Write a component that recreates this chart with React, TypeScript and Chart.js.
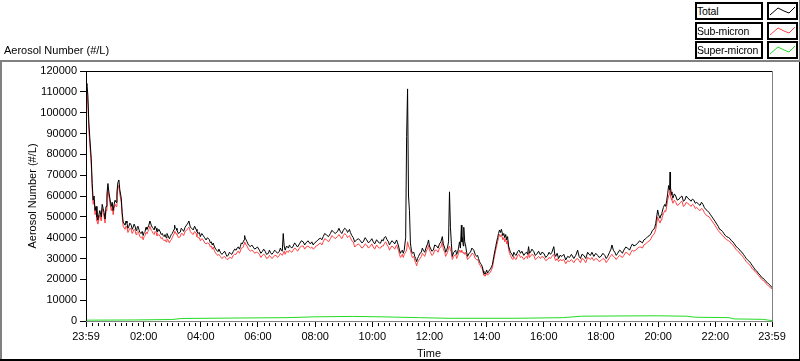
import React, { useEffect, useRef } from 'react';
import { Chart, registerables } from 'chart.js';
Chart.register(...registerables);

// ---------- data ----------
const chartTitle = 'Aerosol Number (#/L)';
const yAxisTitle = 'Aerosol Number (#/L)';
const xAxisTitle = 'Time';
const seriesNames = ['Total', 'Sub-micron', 'Super-micron'];

// x axis: minutes elapsed since 23:59 (0 .. 1440)
const tickMinutes = [0, 121, 241, 361, 481, 601, 721, 841, 961, 1081, 1201, 1321, 1440];
const tickLabels = ['23:59', '02:00', '04:00', '06:00', '08:00', '10:00', '12:00', '14:00', '16:00', '18:00', '20:00', '22:00', '23:59'];

const minutes = [
  0, 2, 4, 6, 8, 11, 13, 15, 17, 19, 21, 23, 25, 27, 29, 32, 34, 36, 38, 40, 42, 44, 46, 48, 50, 53, 55, 57, 59, 61, 63, 65, 67, 69, 71, 74, 76, 78,
  82, 84, 86, 88, 90, 92, 95, 97, 99, 101, 103, 105, 107, 109, 111, 113, 116, 118, 120, 122, 124, 126, 128, 130, 132, 134, 135, 137, 139, 141,
  143, 145, 147, 149, 151, 153, 156, 158, 160, 162, 164, 166, 168, 170, 172, 175, 177, 179, 181, 183, 185, 186, 187, 189, 191, 194, 198, 200, 202, 205,
  208, 211, 214, 216, 219, 222, 225, 228, 231, 233, 235, 238, 240,
  243, 246, 249, 252, 255, 259, 261, 263, 265, 267, 269, 271, 274, 277, 279, 282, 285, 288, 291, 294, 296, 299, 301, 303, 306, 309, 312, 315, 317, 320,
  322, 324, 326, 328, 330, 332, 333, 334, 336, 338, 341, 345, 348, 351, 354, 357, 360, 364, 367, 370, 373, 376, 379, 383, 385, 387, 390, 393, 396, 399,
  402, 406, 408, 410,
  412, 414, 416, 418, 421, 425, 427, 429, 432, 435, 438, 441, 444, 448, 452, 456, 459, 462, 466, 471, 474, 477, 480, 483, 487, 492, 495, 498, 501, 505,
  509, 513, 516, 519, 523, 528, 531, 534, 537, 540, 543, 547, 549, 551, 553, 555, 558, 561, 564, 568, 572, 576, 579, 582, 586, 589, 593, 597, 600, 603,
  606, 610, 613, 616, 618, 621, 624, 626, 629, 632, 635, 637, 639, 642, 645, 648, 652, 654, 656, 658, 660, 662, 664, 666, 668,
  671, 673, 675, 677, 679, 681, 683, 685, 688, 690, 692, 694, 696, 698, 701, 704, 706, 708, 711, 715, 717, 719, 721, 723, 726, 729, 732, 736, 739, 742,
  745, 748, 750, 753, 755, 757, 759, 761, 763, 765, 767, 769, 772, 776, 778, 780, 782, 784, 786, 788, 789, 790, 792, 793, 795, 797, 799, 801, 804, 807,
  810, 814, 817, 820, 822, 824, 826, 828, 830, 832, 834, 835, 838, 841, 843, 845, 847, 849, 851, 853,
  856, 860, 862, 864, 866, 868, 870, 872, 875, 877, 879, 881, 883, 885, 887, 889, 891, 894, 896, 898, 900, 903, 906, 909, 912, 915, 919, 922, 925, 927,
  929, 931, 933, 936, 940, 943, 946, 950, 954, 957, 961, 965, 969, 972, 975, 978, 982, 984, 986, 989, 992, 995, 999, 1003, 1007, 1011, 1015, 1019, 1024, 1028,
  1032, 1035, 1038, 1041, 1045, 1049, 1053, 1056, 1059, 1062, 1066, 1070, 1074, 1077, 1081, 1085, 1089, 1092, 1095, 1099,
  1102, 1104, 1107, 1110, 1113, 1116, 1120, 1123, 1126, 1129, 1133, 1137, 1141, 1144, 1147, 1150, 1154, 1158, 1162, 1165, 1168, 1171, 1175, 1179, 1183, 1186, 1189, 1192, 1194, 1196,
  1200, 1202, 1205, 1207, 1209, 1212, 1215, 1217, 1219, 1221, 1223, 1225, 1226, 1227, 1228, 1230, 1232, 1235, 1238, 1241,
  1245, 1248, 1251, 1254, 1257, 1260, 1263, 1266, 1270, 1273, 1276, 1279, 1282, 1286, 1289, 1292, 1295, 1298, 1301, 1304,
  1308, 1311, 1314, 1317, 1320, 1324, 1327, 1330, 1333, 1336, 1339, 1342, 1345, 1349, 1352, 1355, 1358, 1361, 1364, 1368,
  1371, 1374, 1377, 1380, 1383, 1386, 1390, 1393, 1396, 1399, 1402, 1405, 1408, 1411, 1415, 1418, 1421, 1424, 1427, 1430, 1434, 1437, 1440,
];

const totalValues = [
  113000, 114000, 108000, 95000, 88000, 78000, 66000, 58000, 60000, 53000, 55000, 50000, 48500, 51000, 53000, 50000, 56000, 54000, 52000, 49000, 55000, 61000, 66000, 62000, 59000, 55000, 57000, 53000, 56000, 58000, 57000, 62000, 66500, 67700, 63000, 59000, 52000, 47500,
  46000, 48000, 47000, 44500, 45500, 47000, 46000, 44000, 45000, 46500, 45500, 43500, 44600, 45500, 44000, 42500, 42000, 43000, 41000, 42500, 43000, 45000, 44000, 45000, 46000, 48000, 47500, 46000, 45000, 44500,
  43700, 45500, 44500, 43000, 43000, 44000, 42700, 41500, 42000, 41000, 40500, 41500, 40000, 42000, 41000, 39500, 40500, 41500, 42000, 43000, 44000, 46000, 45000, 44500, 43500, 42000, 42700, 44500, 44000, 43000,
  45000, 46000, 47000, 48000, 45000, 44500, 43700, 45500, 44000, 43000, 42000, 42500, 40500,
  42000, 41000, 40000, 38900, 40000, 39000, 37500, 38000, 36500, 37400, 36000, 35000, 34000, 33300, 34500, 33000, 32000, 32600, 33500, 32000, 31000, 31700, 33000, 32500, 32000, 33300, 34500, 34000, 35000, 35500,
  34500, 35700, 37500, 37000, 38000, 39000, 41000, 39800, 39000, 38000, 36500, 35700, 36500, 35500, 34500, 35000, 35500, 34000, 32500, 33300, 34500, 33500, 32000, 32500, 34000, 33000, 32000, 32800, 34000, 33300,
  32500, 33500, 35000, 34000,
  33500, 42000, 36000, 34000, 36000, 35000, 36500, 35700, 35000, 36000, 37500, 36500, 35500, 37000, 38500, 38000, 36500, 37500, 38500, 37000, 38000, 36500, 37500, 38000, 39000, 39800, 39000, 40500, 42000, 41300,
  40500, 42000, 43500, 42900, 42000, 43000, 44500, 42900, 42000, 43500, 44500, 43700, 42500, 43000, 44000, 42500, 41000, 40000, 38000, 38900, 39500, 38500, 37500, 38000, 40000, 39000, 37500, 38500, 39500, 38000,
  37000, 39000, 38000, 37500, 37300, 39000, 38500, 40000, 40500, 39000, 38000, 36500, 37300, 38500, 38000, 37000, 38900, 37500, 36000, 34000, 32500, 33500, 34000, 32500, 34000,
  40000, 88500, 111400, 60000, 53000, 37400, 34000, 32500, 33000, 31000, 30000, 28500, 30000, 31000, 32500, 33000, 35000, 34000, 33000, 36000, 37000, 38900, 36000, 35000, 33500, 34000, 36500, 36000, 35000, 37000,
  38000, 40500, 37000, 35000, 33000, 34000, 35500, 38000, 62000, 45000, 37000, 31000, 33000, 34000, 32000, 33000, 35000, 38000, 35000, 46000, 38000, 40000, 36000, 45000, 38000, 36000, 33000, 31000, 32500, 33000,
  35000, 34000, 32000, 31000, 31500, 30000, 28500, 27700, 27000, 26000, 24000, 23000, 22500, 24500, 23000, 23700, 24500, 25000, 26000, 27000,
  31000, 35700, 38000, 40000, 42000, 43700, 42500, 44000, 41000, 42000, 40000, 41500, 39000, 40500, 36000, 34500, 33000, 32000, 31000, 33000, 32000, 31500, 33300, 34000, 32500, 33500, 31500, 32500, 33000, 32000,
  35700, 32500, 33000, 34500, 33300, 31500, 32000, 33500, 31700, 33000, 32500, 30500, 31500, 33000, 32000, 33000, 35700, 32000, 31000, 32500, 30000, 31500, 31000, 32000, 29300, 31000, 30500, 32000, 30000, 31500,
  34000, 31000, 30000, 32000, 31500, 30000, 33000, 32000, 31500, 33000, 31000, 32500, 31500, 30500, 31000, 32500, 31500, 30000, 31000, 33000,
  34500, 36500, 34000, 33000, 31500, 32500, 34000, 33500, 32500, 34000, 35500, 35000, 34000, 35700, 37000, 36000, 36500, 37300, 38500, 38000, 37500, 38900, 39500, 40500, 41000, 42000, 43500, 44000, 45000, 46900,
  53300, 51000, 49300, 51000, 52000, 54500, 56000, 55000, 58000, 61000, 65000, 63000, 71500, 64000, 62000, 60500, 59000, 61000, 60000, 58000,
  58500, 59500, 60000, 57500, 58000, 60000, 59000, 58500, 57500, 58500, 58000, 56500, 57000, 56000, 55500, 57000, 56000, 54500, 53500, 53000,
  52000, 51000, 50000, 49000, 48000, 46500, 45500, 44000, 43700, 43000, 42000, 41000, 40500, 40000, 39500, 38500, 38000, 37000, 36000, 35000,
  34500, 33500, 33000, 32000, 31000, 30000, 29000, 28500, 27500, 26500, 25500, 24500, 24000, 23000, 22000, 21000, 20500, 20000, 19000, 18500, 17500, 17000, 16000,
];

const subMicronValues = [
  109000, 110000, 104000, 92000, 85000, 75000, 63500, 56000, 58000, 51000, 53000, 48000, 46500, 49000, 51000, 48000, 54000, 52000, 50000, 47000, 53000, 58500, 63000, 60000, 57000, 53000, 55000, 51000, 54000, 56000, 55000, 60000, 64000, 65000, 61000, 57000, 50000, 45500,
  44000, 45500, 45000, 42500, 43500, 44500, 44000, 42000, 43000, 44000, 43500, 41500, 42500, 43000, 42000, 40500, 40000, 40500, 39000, 40500, 41000, 42500, 42000, 43000, 44000, 45500, 45000, 43500, 43000, 42000,
  41500, 43000, 42500, 41000, 41000, 41500, 40500, 39500, 40000, 39000, 38500, 39000, 38000, 39500, 39000, 37500, 38500, 39000, 40000, 41000, 42000, 43000, 43000, 42000, 41500, 40000, 40500, 42000, 42000, 41000,
  43000, 43500, 44500, 45000, 43000, 42000, 41500, 43000, 42000, 40500, 40000, 40000, 38500,
  39500, 39000, 37500, 37000, 37500, 37000, 35500, 36000, 34500, 35500, 34000, 33000, 32000, 31500, 32000, 31000, 30000, 30500, 31000, 30000, 29500, 29800, 30500, 30500, 30000, 31500, 32000, 32000, 33000, 33500,
  32500, 33500, 35000, 35000, 35500, 37000, 38000, 37500, 36500, 36000, 34500, 33500, 34000, 33500, 32500, 33000, 33000, 32000, 30500, 31500, 32000, 31500, 30000, 30500, 31500, 31000, 30000, 30500, 31500, 31500,
  30500, 31500, 32500, 32000,
  31500, 32500, 33500, 32000, 33500, 33000, 34000, 33500, 33000, 34000, 35000, 34500, 33500, 35000, 36000, 36000, 34500, 35500, 36000, 35000, 35500, 34500, 35000, 36000, 36500, 37500, 36500, 38000, 39500, 39000,
  38000, 39500, 41000, 40500, 39500, 40500, 41500, 40500, 39500, 41000, 42000, 41000, 40000, 40500, 41000, 40000, 38500, 38000, 35500, 36500, 37000, 36000, 35000, 35500, 37000, 36500, 35000, 36000, 37000, 35500,
  34500, 36500, 35500, 35000, 35000, 36000, 36000, 37000, 38000, 36500, 35500, 34000, 35000, 36000, 35500, 34500, 36500, 35000, 34000, 32000, 30500, 31000, 32000, 30500, 32000,
  33000, 34000, 38000, 36000, 35000, 34000, 32000, 30500, 31000, 29000, 28000, 26500, 28000, 29000, 30000, 31000, 32500, 32000, 31000, 34000, 34500, 36500, 34000, 33000, 31500, 32000, 34000, 34000, 33000, 35000,
  35500, 38000, 34500, 33000, 31000, 32000, 33000, 35000, 36000, 34000, 33000, 29500, 31000, 32000, 30000, 31000, 32500, 34000, 33000, 34000, 33000, 33000, 32500, 33000, 32000, 33000, 31000, 29500, 30500, 31000,
  32500, 32000, 30000, 29500, 29500, 28500, 27000, 26500, 25500, 25000, 23000, 22000, 21500, 23000, 22000, 22500, 23000, 23500, 24500, 25500,
  29500, 34000, 36000, 38000, 40000, 41500, 40500, 41500, 39000, 40000, 38000, 39500, 37000, 38500, 34500, 32500, 31500, 30000, 29500, 31000, 30000, 29500, 31500, 32000, 30500, 31000, 29500, 30500, 31000, 30000,
  33000, 30500, 31000, 32000, 31500, 29500, 30000, 31000, 30000, 31000, 30500, 29000, 29500, 30500, 30000, 31000, 32000, 30000, 29000, 30000, 28500, 29500, 29000, 29500, 27500, 29000, 28500, 29500, 28000, 29500,
  30000, 29000, 28000, 30000, 29500, 28000, 30500, 30000, 29500, 30500, 29000, 30000, 29500, 28500, 29000, 30000, 29500, 28000, 29000, 30500,
  31500, 32000, 31000, 30500, 29500, 30500, 31500, 31000, 30500, 31500, 33000, 32500, 31500, 33000, 34000, 33500, 34000, 35000, 35500, 35500, 35000, 36500, 37000, 38000, 38500, 39500, 41000, 41500, 42500, 44000,
  50000, 48500, 47000, 48500, 49500, 51500, 53000, 52500, 55000, 58000, 60000, 61000, 64000, 60000, 59000, 58000, 56500, 58000, 57000, 55500,
  56000, 57000, 57500, 55000, 55500, 57000, 56500, 56000, 55000, 56000, 55500, 54000, 54500, 53500, 53000, 54000, 53500, 52000, 51000, 50500,
  50000, 49000, 48000, 47000, 46000, 44500, 43500, 42500, 42000, 41000, 40500, 39500, 39000, 38500, 38000, 37000, 36500, 35500, 34500, 33500,
  33000, 32000, 31500, 30500, 29500, 28500, 27500, 27000, 26000, 25000, 24500, 23500, 23000, 22000, 21000, 20000, 19500, 19000, 18000, 17500, 16500, 16000, 15300,
];

const superMinutes = [0, 100, 180, 200, 300, 420, 480, 560, 620, 700, 760, 900, 1000, 1040, 1100, 1200, 1260, 1280, 1350, 1360, 1420, 1440];
const superMicronValues = [400, 500, 700, 1200, 1400, 1600, 2000, 2200, 2000, 1600, 1300, 1300, 1600, 2300, 2400, 2500, 2300, 1800, 1600, 1000, 800, 200];

const yMin = 0;
const yMax = 120000;
const yStep = 10000;
const minorStep = 12;

// ---------- styles ----------
const FONT = '"Liberation Sans", Arial, sans-serif';
const colors = ['#000000', '#ff4040', '#22dd22'];

const framePlugin = {
  id: 'labviewFrame',
  beforeDraw(chart: any) {
    const ctx = chart.ctx;
    ctx.save();
    ctx.fillStyle = '#ffffff';
    ctx.fillRect(0, 0, chart.width, chart.height);
    ctx.restore();
  },
  afterDraw(chart: any) {
    const { ctx, chartArea, width, height } = chart;
    const { left, top, right, bottom } = chartArea;
    ctx.save();
    // outer frame
    ctx.fillStyle = '#808080';
    ctx.fillRect(0, 60, width, 2);
    ctx.fillRect(0, 60, 2, height - 60);
    ctx.fillRect(width - 1, 0, 1, 60);
    ctx.fillStyle = '#000000';
    ctx.fillRect(width - 1, 62, 1, height - 62);
    ctx.fillRect(0, height - 2, width, 2);
    // plot frame
    const l = Math.round(left), t = Math.round(top), r = Math.round(right), b = Math.round(bottom);
    ctx.fillStyle = '#000000';
    ctx.fillRect(l, t, r - l, 1);
    ctx.fillRect(l, t, 1, b - t);
    ctx.fillStyle = '#808080';
    ctx.fillRect(r, t, 1, b - t + 1);
    ctx.fillRect(l, b, r - l + 1, 1);
    // minor x ticks
    const xs = chart.scales.x;
    ctx.fillStyle = '#000000';
    for (let m = 1; m < 1440; m += minorStep) {
      if (tickMinutes.includes(m)) continue;
      const px = Math.round(xs.getPixelForValue(m));
      ctx.fillRect(px, b + 2, 1, 3);
    }
    ctx.restore();
  },
};

function Legend() {
  return (
    <>
      {seriesNames.map((name, i) => {
        const top = Math.round(2 + i * 19.5);
        return (
          <React.Fragment key={name}>
            <div
              style={{
                position: 'absolute', left: 695, top, width: 68, height: 18, boxSizing: 'border-box',
                border: '2px solid #000', background: '#fff', font: `10.5px ${FONT}`, lineHeight: '14px',
                letterSpacing: '-0.15px', paddingLeft: 0, whiteSpace: 'nowrap', overflow: 'hidden', color: '#000',
              }}
            >
              {name}
            </div>
            <div
              style={{
                position: 'absolute', left: 767, top, width: 31, height: 18, boxSizing: 'border-box',
                border: '2px solid #000', background: '#fff',
              }}
            >
              <svg width="27" height="14" style={{ display: 'block' }}>
                <polyline points="1,11 9,4 15,7 20,9 26,3" fill="none" stroke={colors[i]} strokeWidth="1" />
              </svg>
            </div>
          </React.Fragment>
        );
      })}
    </>
  );
}

export default function App() {
  const ref = useRef<HTMLCanvasElement | null>(null);

  useEffect(() => {
    if (!ref.current) return;
    const totalData = minutes.map((m, i) => ({ x: m, y: totalValues[i] }));
    const subData = minutes.map((m, i) => ({ x: m, y: subMicronValues[i] }));
    const superData = superMinutes.map((m, i) => ({ x: m, y: superMicronValues[i] }));

    const chart = new Chart(ref.current, {
      type: 'line',
      data: {
        datasets: [
          { label: seriesNames[0], data: totalData, borderColor: colors[0], borderWidth: 1, pointRadius: 0, tension: 0, fill: false },
          { label: seriesNames[1], data: subData, borderColor: colors[1], borderWidth: 1, pointRadius: 0, tension: 0, fill: false },
          { label: seriesNames[2], data: superData, borderColor: colors[2], borderWidth: 1, pointRadius: 0, tension: 0, fill: false },
        ],
      },
      options: {
        responsive: false,
        animation: false,
        devicePixelRatio: 1,
        layout: { padding: { left: 4, top: 0, right: 28, bottom: 0 } },
        plugins: {
          legend: { display: false },
          tooltip: { enabled: false },
          title: {
            display: true,
            text: chartTitle,
            align: 'start',
            color: '#000',
            font: { family: FONT, size: 11, weight: 'normal', lineHeight: 1.2 },
            padding: { top: 44.4, bottom: 13.4 },
          },
        },
        scales: {
          x: {
            type: 'linear',
            min: 0,
            max: 1440,
            afterBuildTicks: (scale: any) => {
              scale.ticks = tickMinutes.map((v) => ({ value: v }));
            },
            afterFit: (scale: any) => {
              scale.height = 40;
            },
            ticks: {
              autoSkip: false,
              maxRotation: 0,
              minRotation: 0,
              padding: 3,
              color: '#000',
              font: { family: FONT, size: 11 },
              callback: (value: any) => {
                const i = tickMinutes.indexOf(Number(value));
                return i >= 0 ? tickLabels[i] : '';
              },
            },
            grid: { display: true, drawOnChartArea: false, drawTicks: true, tickLength: 6, tickColor: '#000', tickWidth: 1 },
            border: { display: false },
            title: {
              display: true,
              text: xAxisTitle,
              color: '#000',
              font: { family: FONT, size: 11, lineHeight: 1.2 },
              padding: { top: 6.4, bottom: 0 },
            },
          },
          y: {
            type: 'linear',
            min: yMin,
            max: yMax,
            afterFit: (scale: any) => {
              scale.width = 82;
            },
            ticks: {
              stepSize: yStep,
              padding: 3,
              color: '#000',
              font: { family: FONT, size: 11 },
              callback: (value: any) => String(value),
            },
            grid: { display: true, drawOnChartArea: false, drawTicks: true, tickLength: 6, tickColor: '#000', tickWidth: 1 },
            border: { display: false },
            title: {
              display: true,
              text: yAxisTitle,
              color: '#000',
              font: { family: FONT, size: 11, lineHeight: 1.2 },
              padding: { top: 22.4, bottom: 0 },
            },
          },
        },
      },
      plugins: [framePlugin],
    } as any);

    return () => chart.destroy();
  }, []);

  return (
    <div style={{ position: 'absolute', left: 0, top: 0, width: 800, height: 361, background: '#fff', overflow: 'hidden' }}>
      <canvas ref={ref} width={800} height={361} style={{ display: 'block', width: 800, height: 361 }} />
      <Legend />
    </div>
  );
}
